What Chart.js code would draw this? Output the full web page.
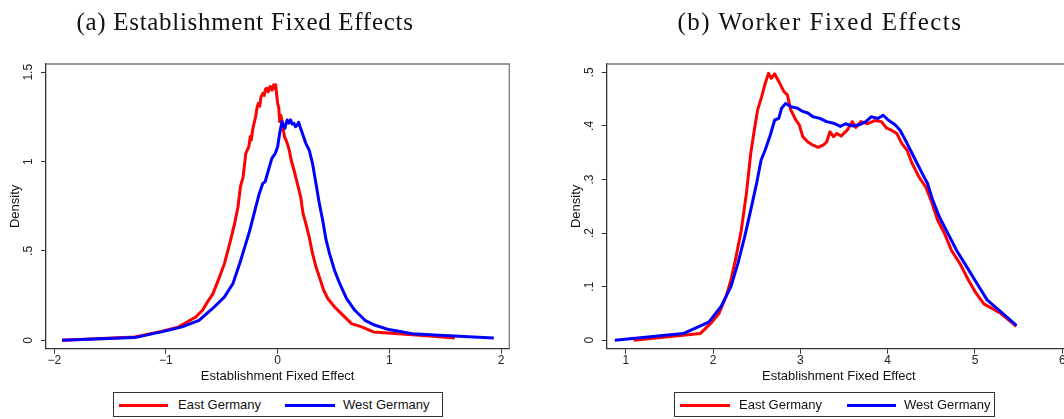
<!DOCTYPE html>
<html>
<head>
<meta charset="utf-8">
<script src="https://cdn.jsdelivr.net/npm/chart.js@4/dist/chart.umd.min.js"></script>
<style>
  html, body { margin: 0; padding: 0; background: #fff; overflow: hidden; }
  body { width: 1064px; height: 419px; position: relative; }
  canvas { position: absolute; top: 0; }
  .title {
    position: absolute; top: 0; height: 43px; line-height: 43px;
    font-family: "Liberation Serif", serif; font-size: 25px; letter-spacing: 0.7px;
    color: #111; white-space: nowrap; transform: translateX(-50%);
  }
  .legend {
    position: absolute; top: 392px; height: 25px; box-sizing: border-box;
    border: 1px solid #333; background: #fff;
    font-family: "Liberation Sans", Arial, sans-serif; font-size: 13px; color: #111;
  }
  .legend .sw { position: absolute; top: 11px; height: 3px; }
  .legend .lb { position: absolute; top: 0; line-height: 24px; white-space: nowrap; }
</style>
</head>
<body>
<canvas id="estab" width="530" height="419" style="left:0px"></canvas>
<canvas id="worker" width="530" height="419" style="left:560px"></canvas>

<div class="title" style="left:245px">(a) Establishment Fixed Effects</div>
<div class="title" style="left:820px; letter-spacing:1.5px">(b) Worker Fixed Effects</div>

<div class="legend" style="left:113px; width:330px">
  <div class="sw" style="left:5px; width:49px; background:#ff0000"></div>
  <div class="lb" style="left:64px">East Germany</div>
  <div class="sw" style="left:171px; width:50px; background:#0000ff"></div>
  <div class="lb" style="left:229px">West Germany</div>
</div>
<div class="legend" style="left:674px; width:321px">
  <div class="sw" style="left:5px; width:50px; background:#ff0000"></div>
  <div class="lb" style="left:64px">East Germany</div>
  <div class="sw" style="left:172px; width:49px; background:#0000ff"></div>
  <div class="lb" style="left:229px">West Germany</div>
</div>

<script>
// Series labels
const seriesNames = ["East Germany", "West Germany"];

// Panel (a): establishment fixed effect densities
const estabEastX = [-1.93, -1.28, -1.04, -0.885, -0.734, -0.673, -0.628, -0.58, -0.52, -0.476, -0.43, -0.385,
  -0.355, -0.333, -0.309, -0.285, -0.258, -0.245, -0.236, -0.224, -0.197, -0.185, -0.173, -0.16, -0.15,
  -0.133, -0.12, -0.11, -0.097, -0.085, -0.067, -0.05, -0.036, -0.025, -0.018, -0.01, 0.0, 0.01, 0.018,
  0.028, 0.039, 0.05, 0.061, 0.075, 0.091, 0.105, 0.121, 0.146, 0.176, 0.206, 0.227, 0.252, 0.282, 0.312,
  0.343, 0.373, 0.412, 0.449, 0.509, 0.57, 0.661, 0.752, 0.858, 1.146, 1.389, 1.586];
const estabEastY = [0.0, 0.019, 0.05, 0.075, 0.13, 0.168, 0.215, 0.26, 0.355, 0.43, 0.54, 0.654,
  0.747, 0.86, 0.915, 1.046, 1.083, 1.14, 1.12, 1.177, 1.252, 1.30, 1.326, 1.31, 1.36,
  1.382, 1.37, 1.405, 1.41, 1.39, 1.42, 1.40, 1.429, 1.41, 1.43, 1.38, 1.326, 1.30, 1.224,
  1.26, 1.23, 1.18, 1.14, 1.12, 1.093, 1.06, 1.009, 0.953, 0.878, 0.803, 0.71, 0.654, 0.579, 0.486,
  0.411, 0.355, 0.28, 0.234, 0.187, 0.149, 0.093, 0.075, 0.047, 0.034, 0.022, 0.013];

const estabWestX = [-1.93, -1.28, -1.04, -0.855, -0.704, -0.582, -0.476, -0.4, -0.34, -0.294, -0.249,
  -0.203, -0.164, -0.133, -0.112, -0.082, -0.052, -0.021, 0.0, 0.018, 0.039, 0.052, 0.064, 0.085, 0.1,
  0.115, 0.13, 0.146, 0.16, 0.176, 0.188, 0.2, 0.221, 0.252, 0.282, 0.312, 0.343, 0.373, 0.403, 0.434,
  0.464, 0.509, 0.555, 0.616, 0.691, 0.782, 0.873, 0.995, 1.207, 1.45, 1.753, 1.935];
const estabWestY = [0.0, 0.015, 0.047, 0.075, 0.112, 0.178, 0.243, 0.318, 0.43, 0.523, 0.616,
  0.729, 0.822, 0.878, 0.887, 0.953, 1.018, 1.046, 1.083, 1.158, 1.224, 1.20, 1.186, 1.233, 1.215,
  1.233, 1.21, 1.214, 1.195, 1.205, 1.22, 1.196, 1.158, 1.102, 1.065, 0.99, 0.878, 0.766, 0.672, 0.56,
  0.486, 0.392, 0.318, 0.234, 0.168, 0.112, 0.084, 0.06, 0.037, 0.028, 0.019, 0.013];

// Panel (b): worker fixed effect densities
const workerEastX = [1.09, 1.853, 1.97, 2.068, 2.147, 2.205, 2.264, 2.323, 2.382, 2.432, 2.479, 2.511,
  2.558, 2.597, 2.636, 2.667, 2.706, 2.753, 2.812, 2.851, 2.89, 2.949, 2.988, 3.027, 3.086, 3.145,
  3.203, 3.262, 3.301, 3.34, 3.38, 3.419, 3.466, 3.536, 3.595, 3.634, 3.693, 3.771, 3.849, 3.928,
  3.986, 4.045, 4.104, 4.163, 4.221, 4.28, 4.358, 4.436, 4.495, 4.573, 4.652, 4.73, 4.828, 4.926,
  5.004, 5.102, 5.298, 5.474];
const workerEastY = [0.0, 0.0125, 0.031, 0.05, 0.081, 0.112, 0.156, 0.205, 0.274, 0.349, 0.399, 0.43,
  0.455, 0.479, 0.498, 0.489, 0.497, 0.483, 0.464, 0.458, 0.43, 0.411, 0.402, 0.38, 0.37, 0.364,
  0.36, 0.364, 0.37, 0.389, 0.38, 0.386, 0.381, 0.392, 0.408, 0.397, 0.408, 0.404, 0.41, 0.408,
  0.396, 0.392, 0.386, 0.367, 0.355, 0.33, 0.305, 0.286, 0.262, 0.224, 0.199, 0.168, 0.143, 0.112,
  0.09, 0.068, 0.05, 0.026];

const workerWestX = [0.875, 1.658, 1.951, 2.088, 2.205, 2.284, 2.362, 2.44, 2.499, 2.55, 2.597, 2.656,
  2.706, 2.753, 2.785, 2.832, 2.89, 2.968, 3.027, 3.086, 3.145, 3.223, 3.301, 3.38, 3.458, 3.517,
  3.595, 3.673, 3.751, 3.81, 3.888, 3.947, 4.006, 4.085, 4.143, 4.202, 4.26, 4.319, 4.397, 4.456,
  4.515, 4.593, 4.691, 4.789, 4.906, 5.023, 5.141, 5.298, 5.474];
const workerWestY = [0.0, 0.0125, 0.034, 0.062, 0.1, 0.143, 0.193, 0.249, 0.293, 0.336, 0.355, 0.383,
  0.411, 0.414, 0.433, 0.442, 0.436, 0.433, 0.427, 0.424, 0.417, 0.414, 0.408, 0.405, 0.399, 0.404,
  0.4, 0.402, 0.408, 0.417, 0.414, 0.42, 0.411, 0.402, 0.392, 0.374, 0.355, 0.336, 0.311, 0.293,
  0.262, 0.23, 0.199, 0.168, 0.137, 0.106, 0.075, 0.053, 0.028];

// Axis ticks and their labels
const estabXTicks = [-2, -1, 0, 1, 2];
const estabXLabels = ["\u22122", "\u22121", "0", "1", "2"];
const estabYTicks = [0, 0.5, 1, 1.5];
const estabYLabels = ["0", ".5", "1", "1.5"];
const workerXTicks = [1, 2, 3, 4, 5, 6];
const workerXLabels = ["1", "2", "3", "4", "5", "6"];
const workerYTicks = [0, 0.1, 0.2, 0.3, 0.4, 0.5];
const workerYLabels = ["0", ".1", ".2", ".3", ".4", ".5"];

const xTitle = "Establishment Fixed Effect";
const yTitle = "Density";

const pts = (xs, ys) => xs.map((x, i) => ({ x: x, y: ys[i] }));

// Top and right frame lines of the plot region
const framePlugin = {
  id: "frame",
  afterDraw(chart) {
    const { ctx, chartArea: a } = chart;
    ctx.save();
    ctx.strokeStyle = "#7a7a7a";
    ctx.lineWidth = 1.3;
    ctx.beginPath();
    ctx.moveTo(a.left, a.top);
    ctx.lineTo(a.right, a.top);
    ctx.lineTo(a.right, a.bottom);
    ctx.stroke();
    ctx.restore();
  }
};

function makePanel(canvasId, cfg) {
  const tickFont = { family: "'Liberation Sans', Arial, sans-serif", size: 12 };
  const titleFont = { family: "'Liberation Sans', Arial, sans-serif", size: 13 };
  return new Chart(document.getElementById(canvasId), {
    type: "scatter",
    data: {
      datasets: [
        {
          label: seriesNames[0], data: pts(cfg.eastX, cfg.eastY), order: 1,
          showLine: true, borderColor: "#ff0000", borderWidth: 3, pointRadius: 0,
          tension: 0, borderJoinStyle: "round"
        },
        {
          label: seriesNames[1], data: pts(cfg.westX, cfg.westY), order: 0,
          showLine: true, borderColor: "#0000ff", borderWidth: 3, pointRadius: 0,
          tension: 0, borderJoinStyle: "round"
        }
      ]
    },
    options: {
      responsive: false,
      animation: false,
      events: [],
      layout: { padding: { top: 64, right: cfg.padRight, left: 0, bottom: 0 } },
      plugins: { legend: { display: false }, tooltip: { enabled: false } },
      scales: {
        x: {
          type: "linear", position: "bottom",
          min: cfg.xMin, max: cfg.xMax,
          afterBuildTicks: s => { s.ticks = cfg.xTicks.map(v => ({ value: v })); },
          afterFit: s => { s.height = 70.3; },
          ticks: {
            font: tickFont, color: "#222", padding: 0, maxRotation: 0,
            callback: (v, i) => cfg.xLabels[cfg.xTicks.indexOf(v)]
          },
          grid: { drawOnChartArea: false, drawTicks: true, tickLength: 5, color: "#333", lineWidth: 1 },
          border: { color: "#333", width: 1.3 },
          title: { display: true, text: xTitle, font: titleFont, color: "#111", padding: { top: 0, bottom: 34.8 } }
        },
        y: {
          type: "linear", position: "left",
          min: cfg.yMin, max: cfg.yMax,
          afterBuildTicks: s => { s.ticks = cfg.yTicks.map(v => ({ value: v })); },
          afterFit: s => { s.width = cfg.yWidth; },
          ticks: {
            font: tickFont, color: "#222", padding: cfg.yPad, minRotation: 90, maxRotation: 90,
            crossAlign: "center",
            callback: (v, i) => cfg.yLabels[cfg.yTicks.findIndex(t => Math.abs(t - v) < 1e-9)]
          },
          grid: { drawOnChartArea: false, drawTicks: true, tickLength: 5, color: "#333", lineWidth: 1 },
          border: { color: "#333", width: 1.3 },
          title: { display: true, text: yTitle, font: titleFont, color: "#111", padding: { top: cfg.yTitlePad, bottom: 0 } }
        }
      }
    },
    plugins: [framePlugin]
  });
}

makePanel("estab", {
  eastX: estabEastX, eastY: estabEastY, westX: estabWestX, westY: estabWestY,
  xMin: -2.074, xMax: 2.074, yMin: -0.047, yMax: 1.546,
  xTicks: estabXTicks, xLabels: estabXLabels, yTicks: estabYTicks, yLabels: estabYLabels,
  padRight: 20.7, yWidth: 46, yPad: 3.6, yTitlePad: 8
});

makePanel("worker", {
  eastX: workerEastX, eastY: workerEastY, westX: workerWestX, westY: workerWestY,
  xMin: 0.782, xMax: 6.1, yMin: -0.0157, yMax: 0.5155,
  xTicks: workerXTicks, xLabels: workerXLabels, yTicks: workerYTicks, yLabels: workerYLabels,
  padRight: 19, yWidth: 46.7, yPad: 6.7, yTitlePad: 8.6
});
</script>
</body>
</html>
